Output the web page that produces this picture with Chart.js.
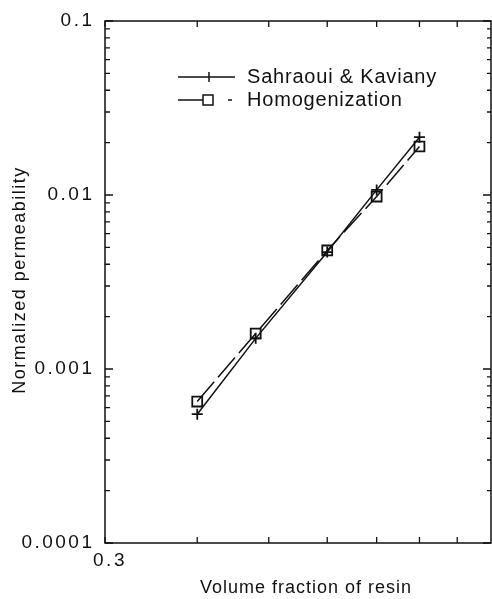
<!DOCTYPE html>
<html>
<head>
<meta charset="utf-8">
<script src="https://cdn.jsdelivr.net/npm/chart.js@4"></script>
<style>
  html, body { margin: 0; padding: 0; background: #fff; overflow: hidden; }
  canvas { display: block; }
</style>
</head>
<body>
<canvas id="chart" width="492" height="599"></canvas>
<script>
// volume fraction of resin (x) and normalized permeability (y)
const fractions = [0.4, 0.48, 0.6, 0.7, 0.8];
const sahraouiKaviany = [0.00055, 0.0015, 0.0047, 0.0107, 0.0215];
const homogenization = [0.00065, 0.0016, 0.0048, 0.0098, 0.019];

const xTicks = [0.3, 0.4, 0.5, 0.6, 0.7, 0.8, 0.9];
const xTickLabels = ['0.3', '', '', '', '', '', ''];
const yTicks = [0.0001, 0.001, 0.01, 0.1];
const yTickLabels = ['0.0001', '0.001', '0.01', '0.1'];
const minorSteps = [2, 3, 4, 5, 6, 7, 8, 9];

const ink = '#111';
const font = '"Liberation Sans", Arial, sans-serif';

// frame, inward ticks, labels and the legend box
const frame = {
  id: 'frame',
  afterDraw(chart) {
    const { ctx, chartArea: a, scales: { x, y } } = chart;
    ctx.save();
    ctx.strokeStyle = ink;
    ctx.fillStyle = ink;
    ctx.lineWidth = 1.5;
    ctx.strokeRect(a.left, a.top, a.right - a.left, a.bottom - a.top);

    ctx.lineWidth = 1.3;
    ctx.beginPath();
    xTicks.forEach(v => {
      const px = x.getPixelForValue(v);
      ctx.moveTo(px, a.bottom); ctx.lineTo(px, a.bottom - 6);
      ctx.moveTo(px, a.top); ctx.lineTo(px, a.top + 6);
    });
    yTicks.forEach((v, i) => {
      const py = y.getPixelForValue(v);
      ctx.moveTo(a.left, py); ctx.lineTo(a.left + 8, py);
      ctx.moveTo(a.right, py); ctx.lineTo(a.right - 8, py);
      if (i < yTicks.length - 1) {
        minorSteps.forEach(m => {
          const pm = y.getPixelForValue(v * m);
          ctx.moveTo(a.left, pm); ctx.lineTo(a.left + 5, pm);
          ctx.moveTo(a.right, pm); ctx.lineTo(a.right - 4, pm);
        });
      }
    });
    ctx.stroke();

    // tick labels
    ctx.font = '19px ' + font;
    ctx.letterSpacing = '2.5px';
    ctx.textAlign = 'right';
    ctx.textBaseline = 'middle';
    yTicks.forEach((v, i) => {
      ctx.fillText(yTickLabels[i], a.left - 10.5, y.getPixelForValue(v));
    });
    ctx.textAlign = 'center';
    xTicks.forEach((v, i) => {
      if (xTickLabels[i]) ctx.fillText(xTickLabels[i], x.getPixelForValue(v) + 5, a.bottom + 18);
    });

    // axis titles
    ctx.font = '18px ' + font;
    ctx.letterSpacing = '1px';
    ctx.fillText('Volume fraction of resin', 306, 588);
    ctx.save();
    ctx.translate(20, 280);
    ctx.rotate(-Math.PI / 2);
    ctx.letterSpacing = '1.5px';
    ctx.fillText('Normalized permeability', 0, 0);
    ctx.restore();

    // legend
    ctx.font = '20px ' + font;
    ctx.letterSpacing = '0.8px';
    ctx.textAlign = 'left';
    ctx.lineWidth = 1.5;
    ctx.beginPath();
    ctx.moveTo(178, 77); ctx.lineTo(235, 77);
    ctx.moveTo(209, 72); ctx.lineTo(209, 82);
    ctx.moveTo(178, 100); ctx.lineTo(203, 100);
    ctx.moveTo(228, 100); ctx.lineTo(232, 100);
    ctx.stroke();
    ctx.strokeRect(203, 95, 10, 10);
    ctx.fillText('Sahraoui & Kaviany', 247, 77);
    ctx.fillText('Homogenization', 247, 100);
    ctx.restore();
  }
};

new Chart(document.getElementById('chart'), {
  type: 'line',
  data: {
    datasets: [
      {
        label: 'Sahraoui & Kaviany',
        data: fractions.map((f, i) => ({ x: f, y: sahraouiKaviany[i] })),
        borderColor: ink,
        borderWidth: 1.5,
        pointStyle: 'cross',
        pointRadius: 5.5,
        pointBorderWidth: 1.8,
        pointBorderColor: ink,
        fill: false,
        tension: 0
      },
      {
        label: 'Homogenization',
        data: fractions.map((f, i) => ({ x: f, y: homogenization[i] })),
        borderColor: ink,
        borderWidth: 1.5,
        borderDash: [26, 6],
        pointStyle: 'rect',
        pointRadius: 7,
        pointBorderWidth: 1.8,
        pointBorderColor: ink,
        pointBackgroundColor: 'rgba(0,0,0,0)',
        fill: false,
        tension: 0
      }
    ]
  },
  options: {
    responsive: false,
    animation: false,
    devicePixelRatio: 1,
    layout: { autoPadding: false, padding: { top: 21, right: 1, left: 0, bottom: 0 } },
    plugins: { legend: { display: false }, tooltip: { enabled: false } },
    scales: {
      x: {
        type: 'logarithmic', min: 0.3, max: 1.0,
        ticks: { display: false }, grid: { display: false }, border: { display: false },
        afterFit(s) { s.height = 56; s.paddingLeft = 0; s.paddingRight = 0; }
      },
      y: {
        type: 'logarithmic', min: 0.0001, max: 0.1,
        ticks: { display: false }, grid: { display: false }, border: { display: false },
        afterFit(s) { s.width = 105; s.paddingTop = 0; s.paddingBottom = 0; }
      }
    }
  },
  plugins: [frame]
});
</script>
</body>
</html>
